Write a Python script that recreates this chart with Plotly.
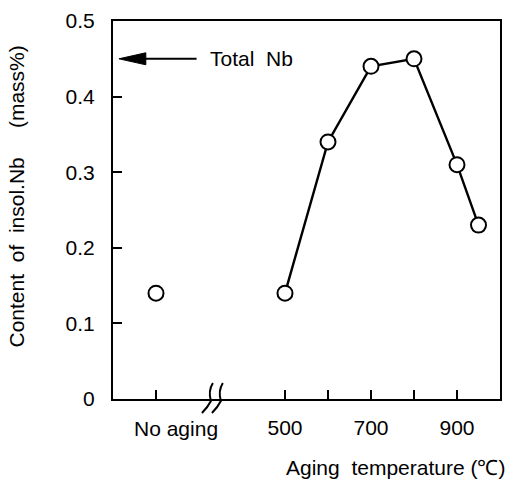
import plotly.graph_objects as go

# data
noaging_x = [200]
noaging_y = [0.14]
temps = [500, 600, 700, 800, 900, 950]
insol_nb = [0.14, 0.34, 0.44, 0.45, 0.31, 0.23]
total_nb = 0.45

x_tickvals = [200, 500, 600, 700, 800, 900]
x_ticktext = ["", "500", "", "700", "", "900"]
noaging_label = "No aging"
y_tickvals = [0, 0.1, 0.2, 0.3, 0.4, 0.5]
y_ticktext = ["0", "0.1", "0.2", "0.3", "0.4", "0.5"]

XR = [100, 1000]
YR = [0, 0.5]
W, H = 510, 485
L, R, T, B = 113, 8, 21, 86
PW = W - L - R
PH = H - T - B

FONT = "Liberation Sans, Arial, Helvetica, sans-serif"
FS = 21

fig = go.Figure()
fig.add_trace(go.Scatter(x=temps, y=insol_nb, mode="lines+markers",
                         line=dict(color="black", width=2.4),
                         marker=dict(symbol="circle", size=15, color="white",
                                     line=dict(width=2, color="black")),
                         showlegend=False, cliponaxis=False))
fig.add_trace(go.Scatter(x=noaging_x, y=noaging_y, mode="markers",
                         marker=dict(symbol="circle", size=15, color="white",
                                     line=dict(width=2, color="black")),
                         showlegend=False, cliponaxis=False))


def px2paper_x(px):
    return (px - L) / PW


def px2paper_y(py):
    return (H - B - py) / PH


def data2px_x(v):
    return L + (v - XR[0]) / (XR[1] - XR[0]) * PW


def data2px_y(v):
    return H - B - (v - YR[0]) / (YR[1] - YR[0]) * PH


shapes = []
# axis break marks
brk = 330
bx = data2px_x(brk)
ay = H - B
for off in (0, 10):
    pts = [(bx + off + 1, ay - 16), (bx + off - 4, ay - 8), (bx + off - 1, ay + 2),
           (bx + off - 4, ay + 8), (bx + off - 10, ay + 14)]
    p = "M{:.4f},{:.4f} Q{:.4f},{:.4f} {:.4f},{:.4f} Q{:.4f},{:.4f} {:.4f},{:.4f}".format(
        px2paper_x(pts[0][0]), px2paper_y(pts[0][1]),
        px2paper_x(pts[1][0]), px2paper_y(pts[1][1]),
        px2paper_x(pts[2][0]), px2paper_y(pts[2][1]),
        px2paper_x(pts[3][0]), px2paper_y(pts[3][1]),
        px2paper_x(pts[4][0]), px2paper_y(pts[4][1]))
    shapes.append(dict(type="path", xref="paper", yref="paper", path=p,
                       line=dict(color="black", width=2)))

# Total Nb arrow
yy = data2px_y(total_nb)
tip = L + 6
hb = tip + 27
tail = tip + 78
shapes.append(dict(type="line", xref="paper", yref="paper",
                   x0=px2paper_x(hb - 2), x1=px2paper_x(tail), y0=px2paper_y(yy), y1=px2paper_y(yy),
                   line=dict(color="black", width=2)))
pa = "M{:.4f},{:.4f} L{:.4f},{:.4f} L{:.4f},{:.4f} Z".format(
    px2paper_x(tip), px2paper_y(yy),
    px2paper_x(hb), px2paper_y(yy - 6),
    px2paper_x(hb), px2paper_y(yy + 6))
shapes.append(dict(type="path", xref="paper", yref="paper", path=pa,
                   fillcolor="black", line=dict(color="black", width=1)))

annotations = [
    dict(text="Total\u00a0\u00a0Nb", xref="paper", yref="y", x=px2paper_x(tail + 11), y=total_nb,
         xanchor="left", yanchor="middle", showarrow=False,
         font=dict(family=FONT, size=FS, color="black")),
    dict(text=noaging_label, xref="paper", yref="paper",
         x=px2paper_x(data2px_x(noaging_x[0]) + 20), y=px2paper_y(428),
         xanchor="center", yanchor="middle", showarrow=False,
         font=dict(family=FONT, size=FS, color="black")),
    dict(text="Aging\u00a0\u00a0temperature\u00a0(\u2103)", xref="paper", yref="paper",
         x=px2paper_x(509), y=px2paper_y(467), xanchor="right", yanchor="middle",
         showarrow=False, font=dict(family=FONT, size=FS, color="black")),
    dict(text="Content\u00a0\u00a0of\u00a0\u00a0insol.Nb\u00a0\u00a0\u00a0\u00a0\u00a0(mass%)",
         xref="paper", yref="paper", x=px2paper_x(17), y=px2paper_y(196),
         xanchor="center", yanchor="middle", textangle=-90, showarrow=False,
         font=dict(family=FONT, size=FS, color="black")),
]

fig.update_layout(
    width=W, height=H,
    margin=dict(l=L, r=R, t=T, b=B, pad=0),
    paper_bgcolor="white", plot_bgcolor="white",
    font=dict(family=FONT, size=FS, color="black"),
    shapes=shapes, annotations=annotations,
    xaxis=dict(range=XR, tickvals=x_tickvals, ticktext=x_ticktext, ticks="inside",
               ticklen=9, tickwidth=2, tickcolor="black", showline=True, linewidth=2,
               linecolor="black", mirror=True, showgrid=False, zeroline=False,
               ticklabelstandoff=9),
    yaxis=dict(range=YR, tickvals=y_tickvals, ticktext=y_ticktext, ticks="inside",
               ticklen=9, tickwidth=2, tickcolor="black", showline=True, linewidth=2,
               linecolor="black", mirror=True, showgrid=False, zeroline=False,
               ticklabelstandoff=12),
)

fig.write_html("out.html")
